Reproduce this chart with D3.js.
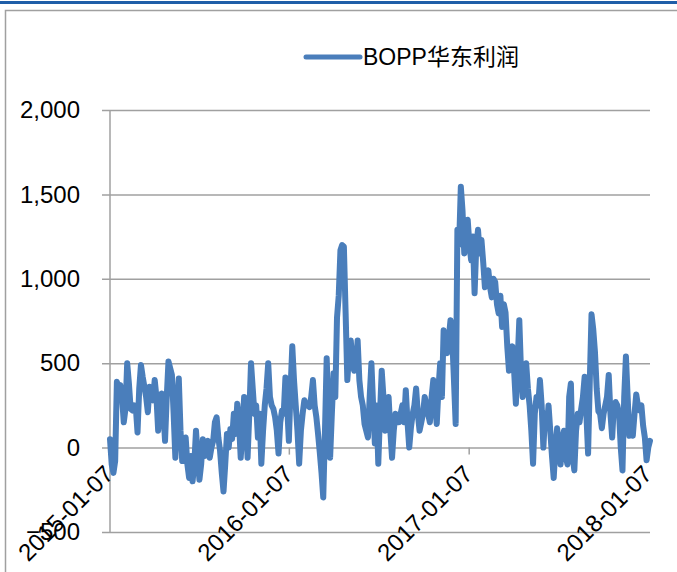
<!DOCTYPE html>
<html>
<head>
<meta charset="utf-8">
<script src="https://cdn.jsdelivr.net/npm/d3@7"></script>
<style>
  body { margin: 0; background: #fff; }
  text { font-family: "Liberation Sans", Arial, "Noto Sans CJK SC", sans-serif; fill: #000; }
</style>
</head>
<body>
<div id="chart"></div>
<script>
  var width = 677;
  var height = 572;

// two readings a week (every 84 hours), first one on 2015-01-07
var startDate = "2015-01-07";
var stepHours = 84;
var profit = [
  50, -100, -150, -80, 390, 330, 370, 300, 150, 230,
  500, 380, 230, 220, 250, 240, 90, 350, 490, 420,
  360, 300, 210, 360, 330, 280, 400, 300, 100, 240,
  320, 220, 40, 300, 510, 470, 430, 200, -60, 250,
  410, 100, -80, 20, 60, -100, -180, -50, -200, -100,
  100, -50, -190, -100, 50, -50, 0, 40, -60, 0,
  40, 150, 180, 60, -20, -150, -260, -100, 80, 0,
  110, 50, 200, 80, 260, 150, -60, 100, 300, 150,
  -60, 200, 500, 350, 200, 250, 60, 200, -95, 100,
  250, 350, 500, 300, 250, 230, 180, 100, -35, 150,
  220, 200, 415, 250, 40, 350, 600, 400, 250, 100,
  -95, 100, 200, 280, 250, 250, 240, 300, 400, 250,
  180, 80, -30, -150, -295, 100, 530, 200, -60, 200,
  440, 300, 770, 900, 1170, 1200, 1190, 800, 400, 550,
  635, 500, 455, 500, 635, 400, 300, 250, 140, 100,
  60, 300, 500, 250, 25, 250, -95, 200, 455, 300,
  100, 200, 300, 100, -60, 100, 200, 150, 150, 200,
  250, 150, 340, 150, 0, 120, 200, 250, 350, 200,
  100, 150, 200, 300, 250, 200, 150, 300, 400, 250,
  140, 350, 500, 300, 695, 600, 560, 650, 755, 650,
  400, 140, 1290, 1200, 1545, 1400, 1150, 1300, 1350, 1200,
  1110, 1250, 915, 1200, 1290, 1150, 1230, 1100, 950, 1000,
  1050, 950, 890, 1000, 980, 850, 795, 900, 715, 850,
  800, 600, 455, 550, 600, 450, 260, 500, 755, 450,
  300, 400, 500, 350, 250, 100, -95, 200, 300, 250,
  400, 250, 0, 200, 120, 250, 100, -50, -180, 0,
  115, 0, -100, 50, 100, -50, -100, 300, 380, -50,
  -135, 100, 200, 150, 230, 300, 420, 200, -35, 400,
  790, 700, 565, 350, 215, 200, 115, 200, 250, 300,
  430, 200, 60, 250, 270, 250, 200, 0, -135, 300,
  540, 300, 70, 100, 70, 200, 315, 250, 220, 250,
  130, 60, -75, 0, 40
];
var yTicks = [-500, 0, 500, 1000, 1500, 2000];
var xTickLabels = ["2015-01-07", "2016-01-07", "2017-01-07", "2018-01-07"];
var seriesName = "BOPP华东利润";

var parse = d3.timeParse("%Y-%m-%d");
var t0 = parse(startDate);
var data = profit.map(function(v, i){
  return {date: d3.timeHour.offset(t0, stepHours*i), value: v};
});

var plot = {left: 110, right: 650, top: 110, bottom: 532};
var blue = "#4a7ebb";
var grid = "#a0a0a0";

var svg = d3.select("#chart").append("svg")
  .attr("width", width)
  .attr("height", height);

// top rule + chart frame
svg.append("rect").attr("x", 0).attr("y", 1).attr("width", width).attr("height", 3).attr("fill", "#1f5ea8");
svg.append("rect")
  .attr("x", 5.5).attr("y", 10.5)
  .attr("width", width + 20).attr("height", height + 20)
  .attr("fill", "none").attr("stroke", grid).attr("stroke-width", 1.5);

var x = d3.scaleTime()
  .domain(d3.extent(data, function(d){ return d.date; }))
  .range([plot.left, plot.right]);
var y = d3.scaleLinear()
  .domain([-500, 2000])
  .range([plot.bottom, plot.top]);

// horizontal gridlines + y labels
var yAxis = d3.axisLeft(y)
  .tickValues(yTicks)
  .tickSize(-(plot.right - plot.left))
  .tickPadding(30)
  .tickFormat(d3.format(","));
var gy = svg.append("g")
  .attr("transform", "translate(" + plot.left + ",0)")
  .call(yAxis);
gy.select(".domain").remove();
gy.selectAll(".tick line")
  .attr("x1", -8)
  .attr("stroke", grid).attr("stroke-width", 1.5);
gy.selectAll(".tick text")
  .attr("font-size", 24)
  .attr("font-family", "Liberation Sans, Arial, sans-serif");

svg.append("line")
  .attr("x1", plot.left).attr("x2", plot.left)
  .attr("y1", plot.top).attr("y2", plot.bottom)
  .attr("stroke", grid).attr("stroke-width", 1.5);

// category axis sits on zero
var tickDates = xTickLabels.map(parse);
var gx = svg.append("g");
gx.selectAll("line.tk")
  .data(tickDates)
  .enter().append("line")
  .attr("class", "tk")
  .attr("x1", function(d){ return x(d); })
  .attr("x2", function(d){ return x(d); })
  .attr("y1", y(0)).attr("y2", y(0) + 7)
  .attr("stroke", grid).attr("stroke-width", 1.5);

// the series
var line = d3.line()
  .x(function(d){ return x(d.date); })
  .y(function(d){ return y(d.value); });
svg.append("path")
  .datum(data)
  .attr("d", line)
  .attr("fill", "none")
  .attr("stroke", blue)
  .attr("stroke-width", 6)
  .attr("stroke-linejoin", "round")
  .attr("stroke-linecap", "round");

gx.selectAll("text")
  .data(xTickLabels)
  .enter().append("text")
  .attr("transform", function(d){
    return "translate(" + (x(parse(d)) + 5) + "," + (y(0) + 28) + ") rotate(-45)";
  })
  .attr("text-anchor", "end")
  .attr("font-size", 24)
  .text(function(d){ return d; });

// legend
var lg = svg.append("g").attr("transform", "translate(306,57)");
lg.append("line")
  .attr("x1", 0).attr("x2", 54)
  .attr("stroke", blue).attr("stroke-width", 5)
  .attr("stroke-linecap", "round");
lg.append("text")
  .attr("x", 57).attr("y", 8)
  .attr("font-size", 23)
  .text(seriesName);
</script>
</body>
</html>
